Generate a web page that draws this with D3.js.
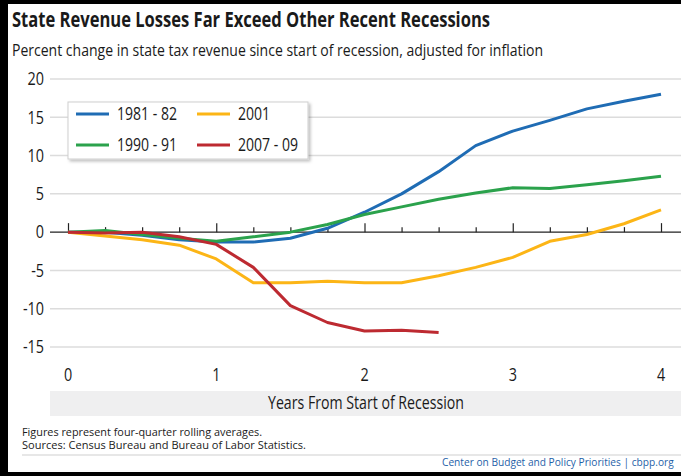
<!DOCTYPE html>
<html><head><meta charset="utf-8">
<script src="https://cdn.jsdelivr.net/npm/d3@7"></script>
<style>
html,body{margin:0;padding:0;background:#fff;}
svg{display:block;}
text{font-family:"Open Sans","Liberation Sans",sans-serif;}
</style></head>
<body>
<script>
const quarters = [0,0.25,0.5,0.75,1,1.25,1.5,1.75,2,2.25,2.5,2.75,3,3.25,3.5,3.75,4];
const seriesNames = ["1981 - 82","1990 - 91","2001","2007 - 09"];
const s1981 = [0,0,-0.4,-1.0,-1.3,-1.3,-0.8,0.5,2.6,5.0,7.9,11.3,13.2,14.6,16.1,17.1,18.0];
const s1990 = [0,0.2,-0.3,-0.8,-1.2,-0.6,0,1.0,2.3,3.3,4.3,5.1,5.8,5.7,6.2,6.7,7.3];
const s2001 = [0,-0.5,-1.0,-1.7,-3.5,-6.6,-6.6,-6.4,-6.6,-6.6,-5.7,-4.6,-3.3,-1.2,-0.3,1.1,2.9];
const s2007 = [0,-0.1,0,-0.6,-1.6,-4.6,-9.6,-11.8,-12.9,-12.8,-13.1];
const yTicks = [20,15,10,5,0,-5,-10,-15];
const xTicks = [0,1,2,3,4];
const colors = ["#1f6cb4","#2ba24c","#fcb516","#bd2a31"];

const W=681,H=476;
const svg=d3.select("body").append("svg").attr("width",W).attr("height",H);

function condense(sel,f){sel.each(function(){const l=this.getComputedTextLength();d3.select(this).attr("textLength",l*f).attr("lengthAdjust","spacingAndGlyphs");});}

const x=d3.scaleLinear().domain([0,4]).range([68,661]);
const y=d3.scaleLinear().domain([-15,20]).range([347,79]);

// frame
svg.append("rect").attr("x",0).attr("y",0).attr("width",W).attr("height",4).attr("fill","#000");
svg.append("rect").attr("x",0).attr("y",0).attr("width",8).attr("height",H).attr("fill","#000");
svg.append("rect").attr("x",0).attr("y",472).attr("width",W).attr("height",4).attr("fill","#000");

// titles
svg.append("text").attr("x",12).attr("y",27).attr("font-size",21).attr("font-weight","bold").attr("fill","#1a1a1a")
  .text("State Revenue Losses Far Exceed Other Recent Recessions").attr("textLength",478).attr("lengthAdjust","spacingAndGlyphs");
svg.append("text").attr("x",12).attr("y",56).attr("font-size",16).attr("fill","#1a1a1a")
  .text("Percent change in state tax revenue since start of recession, adjusted for inflation").attr("textLength",531).attr("lengthAdjust","spacingAndGlyphs");

// gridlines
svg.append("g").selectAll("line").data(yTicks.filter(d=>d!==0)).join("line")
  .attr("x1",50).attr("x2",W).attr("y1",d=>y(d)).attr("y2",d=>y(d))
  .attr("stroke","#dcdcdc").attr("stroke-width",1.5);

// y labels
const yl=svg.append("g").selectAll("text").data(yTicks).join("text")
  .attr("x",44).attr("y",d=>y(d)).attr("dy","0.35em").attr("text-anchor","end")
  .attr("font-size",18).attr("fill","#1a1a1a").text(d=>d);
condense(yl,0.8);

// zero axis with ticks
const xAxis=d3.axisTop(x).tickValues(quarters).tickSize(5).tickFormat("");
const ax=svg.append("g").attr("transform",`translate(0,${y(0)})`).call(xAxis);
ax.select(".domain").remove();
ax.selectAll(".tick line").attr("stroke","#222").attr("stroke-width",1.2)
  .attr("y2",d=>Number.isInteger(d)?-9:-5);
svg.append("line").attr("x1",50).attr("x2",W).attr("y1",y(0)).attr("y2",y(0)).attr("stroke","#222").attr("stroke-width",1.2);

// lines
const line=d3.line().x((d,i)=>x(quarters[i])).y(d=>y(d));
[s1981,s1990,s2001,s2007].forEach((s,i)=>{
  svg.append("path").datum(s).attr("d",line).attr("fill","none")
    .attr("stroke",colors[i]).attr("stroke-width",3).attr("stroke-linejoin","round");
});

// x tick labels
const xl=svg.append("g").selectAll("text").data(xTicks).join("text")
  .attr("x",d=>x(d)).attr("y",381).attr("text-anchor","middle")
  .attr("font-size",18).attr("fill","#1a1a1a").text(d=>d);
condense(xl,0.8);

// x axis title band
svg.append("rect").attr("x",50).attr("y",391).attr("width",W-50).attr("height",25).attr("fill","#efeff0");
svg.append("text").attr("x",366).attr("y",409).attr("text-anchor","middle").attr("font-size",18).attr("fill","#1a1a1a")
  .text("Years From Start of Recession").attr("textLength",196).attr("lengthAdjust","spacingAndGlyphs");

// legend
const defs=svg.append("defs");
const f=defs.append("filter").attr("id","sh").attr("x","-10%").attr("y","-20%").attr("width","130%").attr("height","150%");
f.append("feDropShadow").attr("dx",2).attr("dy",2).attr("stdDeviation",1.5).attr("flood-color","#000").attr("flood-opacity",0.25);
svg.append("rect").attr("x",68).attr("y",102).attr("width",240).attr("height",57)
  .attr("fill","#fff").attr("stroke","#cfcfcf").attr("stroke-width",1).attr("filter","url(#sh)");
const legPos=[[76,114],[76,145],[197,114],[197,145]];
seriesNames.forEach((n,i)=>{
  const [lx,ly]=legPos[i];
  svg.append("line").attr("x1",lx).attr("x2",lx+33).attr("y1",ly).attr("y2",ly).attr("stroke",colors[i]).attr("stroke-width",3);
  const t=svg.append("text").attr("x",lx+41).attr("y",ly).attr("dy","0.35em").attr("font-size",18).attr("fill","#1a1a1a").text(n);
  condense(t,0.78);
});

// footnotes
svg.append("text").attr("x",22).attr("y",436).attr("font-size",10.5).attr("fill","#1a1a1a")
  .text("Figures represent four-quarter rolling averages.").attr("textLength",240).attr("lengthAdjust","spacingAndGlyphs");
svg.append("text").attr("x",22).attr("y",449).attr("font-size",10.5).attr("fill","#1a1a1a")
  .text("Sources: Census Bureau and Bureau of Labor Statistics.").attr("textLength",284).attr("lengthAdjust","spacingAndGlyphs");
svg.append("line").attr("x1",22).attr("x2",W).attr("y1",455).attr("y2",455).attr("stroke","#cfcfcf").attr("stroke-width",1);
// footer: scale horizontally with a transform so its box stays inside the picture
const foot=svg.append("text").attr("x",0).attr("y",0).attr("font-size",11).attr("fill","#1f5fa8")
  .text("Center on Budget and Policy Priorities | cbpp.org");
{
  const L=foot.node().getComputedTextLength();
  const target=232, sx=Math.min(1,target/L);
  foot.attr("transform",`translate(${674-target},465.5) scale(${sx},1)`);
}
</script>
</body></html>
